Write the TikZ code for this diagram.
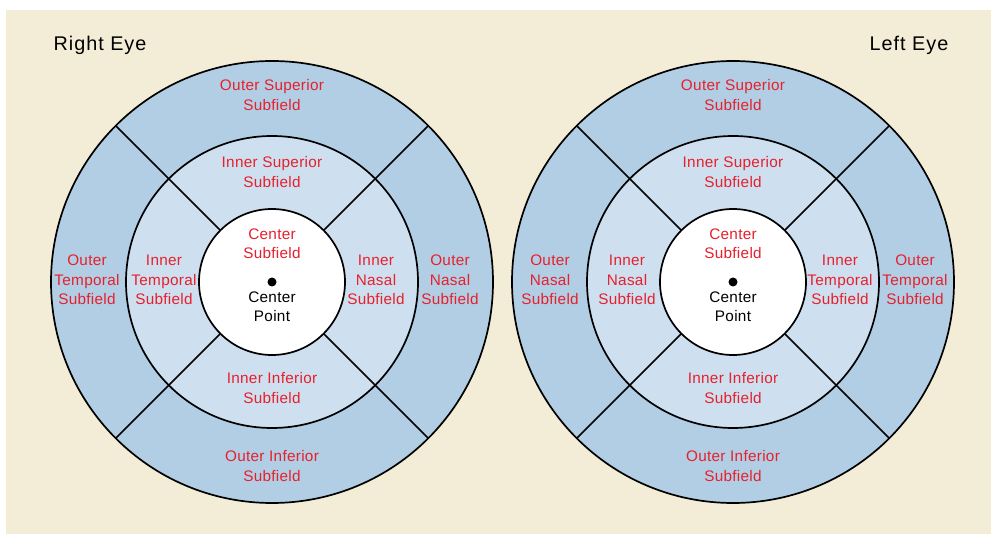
\documentclass[tikz,border=0pt]{standalone}
\usepackage{fontspec}
\setmainfont{Liberation Sans}
\newfontfamily\lblfont[LetterSpace=2]{Liberation Sans}
\newfontfamily\ttlfont[LetterSpace=5]{Liberation Sans}
\definecolor{bgbeige}{RGB}{243,236,214}
\definecolor{outerblue}{RGB}{178,206,228}
\definecolor{innerblue}{RGB}{206,223,239}
\definecolor{lblred}{RGB}{230,32,44}
\tikzset{
  lbl/.style={text=lblred, align=center, font=\lblfont\fontsize{15.3}{19.3}\selectfont, inner sep=0pt},
  blk/.style={text=black, align=center, font=\lblfont\fontsize{15.3}{19.3}\selectfont, inner sep=0pt},
  eyetitle/.style={text=black, font=\ttlfont\fontsize{19.8}{23}\selectfont, inner sep=0pt},
  ring/.style={draw=black, line width=1.7pt},
  divider/.style={draw=black, line width=1.7pt},
}
\begin{document}
\begin{tikzpicture}[x=1pt,y=-1pt]
\useasboundingbox (0,0) rectangle (991,534);
\fill[bgbeige] (6,10) rectangle (991,534);
\foreach \cx/\nm in {272/R,733/L}{
  \fill[outerblue] (\cx,282) circle[radius=221pt];
  \fill[innerblue] (\cx,282) circle[radius=146pt];
  \foreach \a in {45,135,225,315}{
    \draw[divider] ([shift={(\a:73pt)}]\cx,282) -- ([shift={(\a:221pt)}]\cx,282);
  }
  \draw[ring] (\cx,282) circle[radius=221pt];
  \draw[ring] (\cx,282) circle[radius=146pt];
  \draw[ring, fill=white] (\cx,282) circle[radius=73pt];
  \node[circle, fill=black, inner sep=0pt, minimum size=9pt] (dot\nm) at (\cx,282) {};
  \node[blk] (cp\nm) at (\cx,307) {Center\\Point};
  \node[lbl] (cs\nm) at (\cx,244) {Center\\Subfield};
  \node[lbl] (os\nm) at (\cx,95) {Outer Superior\\Subfield};
  \node[lbl] (is\nm) at (\cx,172) {Inner Superior\\Subfield};
  \node[lbl] (ii\nm) at (\cx,388) {Inner Inferior\\Subfield};
  \node[lbl] (oi\nm) at (\cx,466) {Outer Inferior\\Subfield};
}
% right eye (left picture)
\node[lbl] (otR) at (87,280) {Outer\\Temporal\\Subfield};
\node[lbl] (itR) at (164,280) {Inner\\Temporal\\Subfield};
\node[lbl] (inR) at (376,280) {Inner\\Nasal\\Subfield};
\node[lbl] (onR) at (450,280) {Outer\\Nasal\\Subfield};
% left eye (right picture)
\node[lbl] (onL) at (550,280) {Outer\\Nasal\\Subfield};
\node[lbl] (inL) at (627,280) {Inner\\Nasal\\Subfield};
\node[lbl] (itL) at (840,280) {Inner\\Temporal\\Subfield};
\node[lbl] (otL) at (915,280) {Outer\\Temporal\\Subfield};
\node[eyetitle] (tR) at (100,45) {Right Eye};
\node[eyetitle] (tL) at (909,45) {Left Eye};
\end{tikzpicture}
\end{document}
